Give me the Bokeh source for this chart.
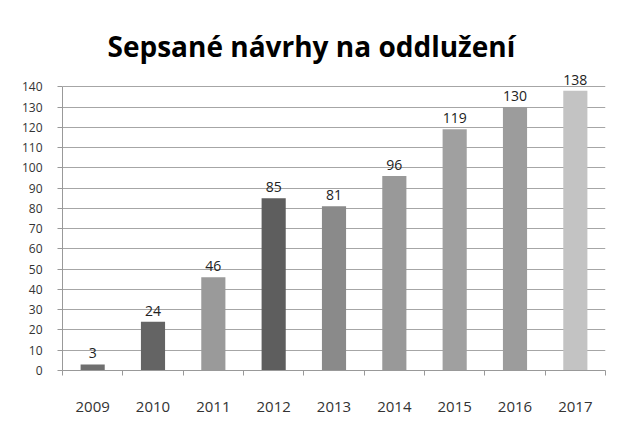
from bokeh.plotting import figure
from bokeh.models import FixedTicker, ColumnDataSource, Range1d, LabelSet
from bokeh.embed import file_html
from bokeh.resources import INLINE
from bokeh.core.properties import value

years = ["2009", "2010", "2011", "2012", "2013", "2014", "2015", "2016", "2017"]
counts = [3, 24, 46, 85, 81, 96, 119, 130, 138]
bar_colors = ["#6f6f6f", "#646464", "#9a9a9a", "#5e5e5e", "#8a8a8a",
              "#999999", "#a0a0a0", "#9c9c9c", "#c3c3c3"]
y_ticks = list(range(0, 150, 10))
title_text = "Sepsané návrhy na oddlužení"

centers = [i + 0.5 for i in range(len(years))]
src = ColumnDataSource(dict(x=centers, top=counts, color=bar_colors,
                            label=[str(c) for c in counts]))

p = figure(width=612, height=420,
           x_range=Range1d(0, len(years)), y_range=Range1d(0, 150),
           output_backend="svg", toolbar_location=None,
           min_border_left=62, min_border_right=7,
           min_border_top=66, min_border_bottom=50)
p.outline_line_color = None
p.background_fill_color = "white"
p.border_fill_color = "white"

p.title.text = title_text
p.title.align = "left"
p.title.offset = 45
p.title.text_font = "Open Sans"
p.title.text_font_style = "bold"
p.title.text_font_size = "28px"
p.title.text_color = "#000000"
p.title.standoff = 3

p.vbar(x="x", top="top", width=0.4, bottom=0, color="color", source=src,
       line_color=None)

labels = LabelSet(x="x", y="top", text="label", source=src,
                  text_align="center", text_baseline="bottom", y_offset=6,
                  text_font=value("Open Sans"), text_font_size=value("14px"),
                  text_color="#222222")
p.add_layout(labels)

# y axis
p.yaxis.ticker = FixedTicker(ticks=y_ticks)
p.yaxis.bounds = (0, 140)
p.yaxis.axis_line_color = "#999999"
p.yaxis.major_tick_line_color = "#999999"
p.yaxis.major_tick_out = 5
p.yaxis.major_tick_in = 0
p.yaxis.minor_tick_line_color = None
p.yaxis.major_label_text_font = "Open Sans"
p.yaxis.major_label_text_font_size = "12px"
p.yaxis.major_label_text_color = "#333333"
p.yaxis.major_label_standoff = 15

# x axis: labels at centers, tick marks at boundaries
p.xaxis.ticker = FixedTicker(ticks=centers,
                             minor_ticks=list(range(len(years) + 1)))
p.xaxis.major_label_overrides = {c: y for c, y in zip(centers, years)}
p.xaxis.major_tick_line_color = None
p.xaxis.minor_tick_line_color = "#999999"
p.xaxis.minor_tick_out = 5
p.xaxis.minor_tick_in = 0
p.xaxis.axis_line_color = "#999999"
p.xaxis.major_label_text_font = "Open Sans"
p.xaxis.major_label_text_font_size = "15px"
p.xaxis.major_label_text_color = "#333333"
p.xaxis.major_label_standoff = 25

p.xgrid.grid_line_color = None
p.ygrid.ticker = FixedTicker(ticks=y_ticks)
p.ygrid.grid_line_color = "#a6a6a6"
p.ygrid.grid_line_width = 1

open("out.html", "w").write(file_html(p, INLINE))
